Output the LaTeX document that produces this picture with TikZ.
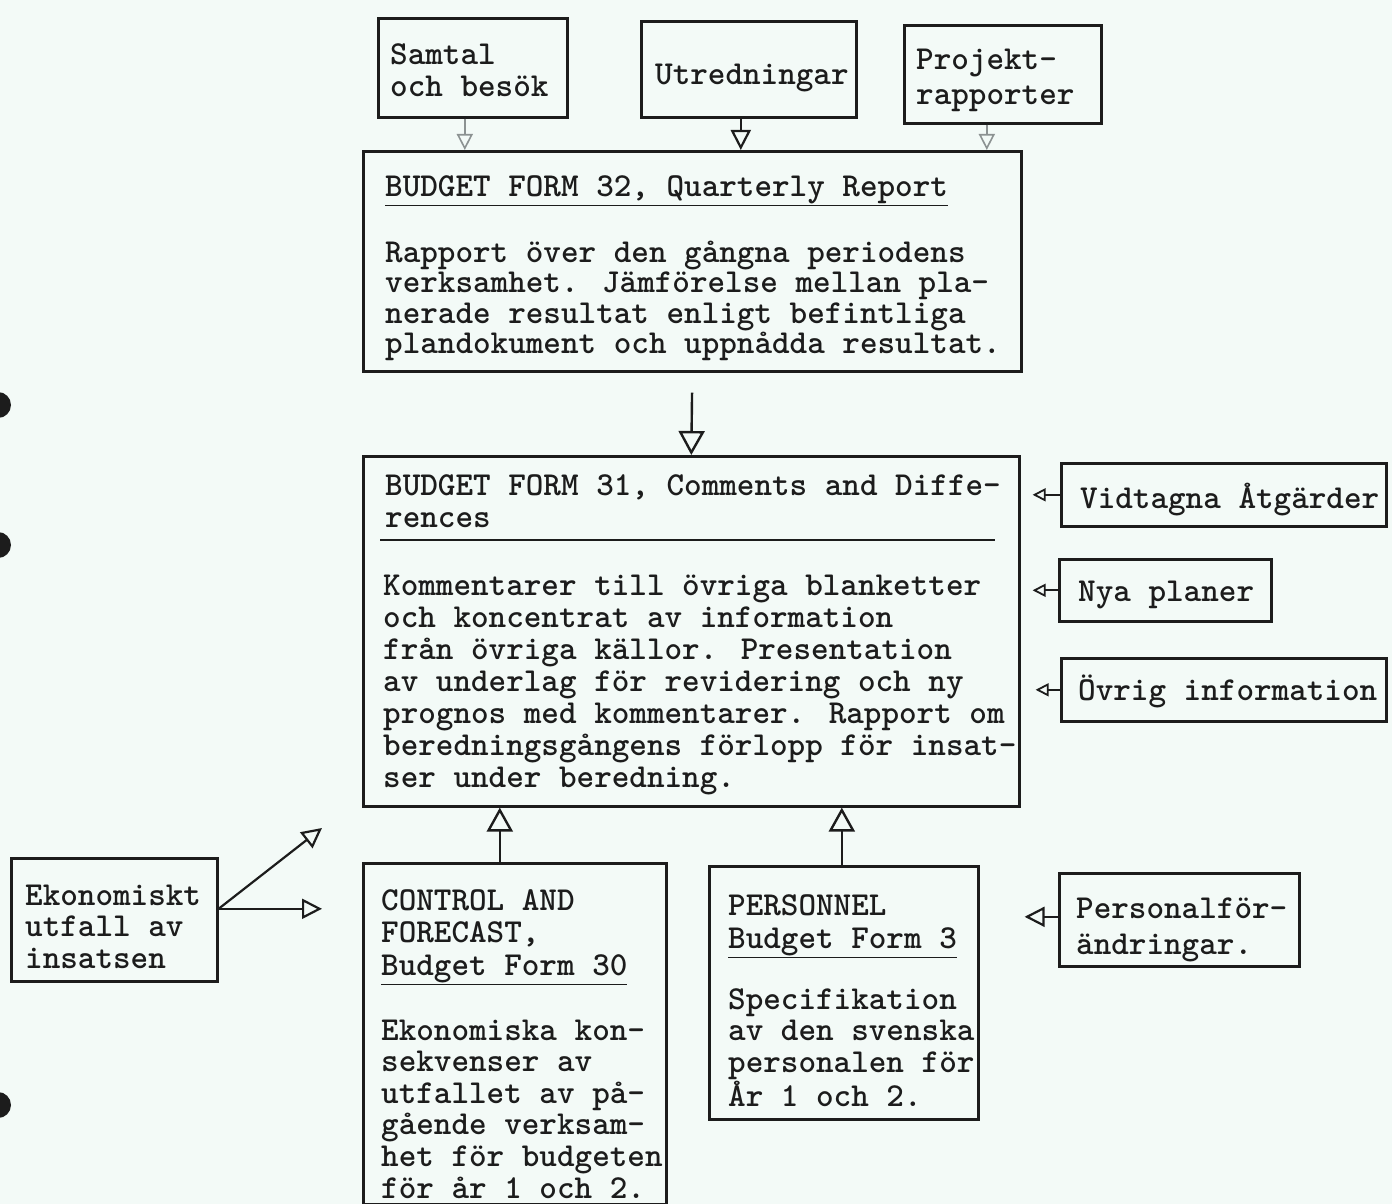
\documentclass[tikz,border=0pt]{standalone}
\usetikzlibrary{arrows.meta}
\definecolor{paper}{RGB}{243,250,247}
\definecolor{ink}{RGB}{28,28,28}
\definecolor{faint}{RGB}{140,146,146}
\tikzset{
  box/.style={draw=ink, line width=2.6pt, inner sep=0pt, anchor=north west},
  txt/.style={text=ink, font=\ttfamily\bfseries\fontsize{33.5}{#1}\selectfont, anchor=base west, inner sep=0pt, align=left},
  txt/.default=31.6,
  bigarr/.style={draw=ink, line width=2.4pt, -{Triangle[open, length=24pt, width=26pt, line width=2.4pt]}},
  midarr/.style={draw=ink, line width=2.2pt, -{Triangle[open, length=20pt, width=20pt, line width=2.2pt]}},
  smallarr/.style={draw=ink, line width=1.8pt, -{Triangle[open, length=13pt, width=13pt, line width=1.8pt]}},
  faintarr/.style={draw=faint, line width=1.6pt, -{Triangle[open, length=16pt, width=16pt, line width=1.6pt]}},
  divider/.style={draw=ink, line width=2pt},
  hole/.style={fill=ink}
}
\begin{document}
\begin{tikzpicture}[x=1pt, y=-1pt]
\useasboundingbox (0,0) rectangle (1392,1204);
\fill[paper] (0,0) rectangle (1392,1204);

% punch holes
\fill[hole] (-2,405) circle (13pt);
\fill[hole] (-2,545) circle (13pt);
\fill[hole] (-2,1105) circle (13pt);

% top source boxes (multi-line text nodes are placed at the baseline of their last line)
\node[box, minimum width=189pt, minimum height=99pt] (samtal) at (377,17) {};
\node[txt=32] (samtalT) at (390,97) {Samtal\\och besök};
\node[box, minimum width=215pt, minimum height=96pt] (utr) at (640,20) {};
\node[txt] (utrT) at (655,85) {Utredningar};
\node[box, minimum width=197pt, minimum height=98pt] (proj) at (903,24) {};
\node[txt=35] (projT) at (916,105) {Projekt-\\rapporter};

% Budget form 32
\node[box, minimum width=658pt, minimum height=220pt] (bf32) at (362,150) {};
\node[txt] (bf32T) at (385,196) {\underline{BUDGET FORM 32, Quarterly Report}};
\node[txt=30.5] (bf32B) at (385,353.5) {Rapport över den gångna periodens\\verksamhet. Jämförelse mellan pla-\\nerade resultat enligt befintliga\\plandokument och uppnådda resultat.};

% Budget form 31
\node[box, minimum width=656pt, minimum height=350pt] (bf31) at (362,455) {};
\node[txt] (bf31T) at (385,495) {BUDGET FORM 31, Comments and Diffe-};
\node[txt] (bf31T2) at (385,527) {rences};
\draw[divider] (380,540) -- (995,540);
\node[txt=32] (bf31B) at (383,787) {Kommentarer till övriga blanketter\\och koncentrat av information\\från övriga källor. Presentation\\av underlag för revidering och ny\\prognos med kommentarer. Rapport om\\beredningsgångens förlopp för insat-\\ser under beredning.};

% right side sources
\node[box, minimum width=325pt, minimum height=63pt] (vid) at (1060,462) {};
\node[txt] (vidT) at (1080,508) {Vidtagna Åtgärder};
\node[box, minimum width=212pt, minimum height=62pt] (nya) at (1058,558) {};
\node[txt] (nyaT) at (1078,601) {Nya planer};
\node[box, minimum width=325pt, minimum height=63pt] (ovr) at (1060,657) {};
\node[txt] (ovrT) at (1078,700) {Övrig information};

% bottom boxes
\node[box, minimum width=303pt, minimum height=341pt] (ctrl) at (362,862) {};
\node[txt=32.5] (ctrlT) at (381,975) {CONTROL AND\\FORECAST,\\\underline{Budget Form 30}};
\node[txt] (ctrlB) at (381,1198) {Ekonomiska kon-\\sekvenser av\\utfallet av på-\\gående verksam-\\het för budgeten\\för år 1 och 2.};

\node[box, minimum width=269pt, minimum height=253pt] (pers) at (708,865) {};
\node[txt=33] (persT) at (728,948) {PERSONNEL\\\underline{Budget Form 3}};
\node[txt=31.7] (persB) at (728,1106) {Specifikation\\av den svenska\\personalen för\\År 1 och 2.};

\node[box, minimum width=240pt, minimum height=93pt] (persf) at (1058,872) {};
\node[txt=36] (persfT) at (1076,954) {Personalför-\\ändringar.};

\node[box, minimum width=206pt, minimum height=123pt] (ek) at (10,857) {};
\node[txt=31.5] (ekT) at (25,968) {Ekonomiskt\\utfall av\\insatsen};
\coordinate (ekdiag) at (322,828);

% connectors
\draw[faintarr] ([xshift=-8pt]samtal.south) -- ([xshift=-8pt]samtal.south |- bf32.north);
\draw[midarr] ([xshift=-8pt]utr.south) -- ([xshift=-8pt]utr.south |- bf32.north);
\draw[faintarr] ([xshift=-16pt]proj.south) -- ([xshift=-16pt]proj.south |- bf32.north);

\draw[bigarr, shorten <=20pt] (bf32.south) -- (bf31.north);

\draw[smallarr, shorten >=12pt] (vid.west) -- (vid.west -| bf31.east);
\draw[smallarr, shorten >=12pt] (nya.west) -- (nya.west -| bf31.east);
\draw[smallarr, shorten >=15pt] (ovr.west) -- (ovr.west -| bf31.east);

\draw[bigarr] ([xshift=-15pt]ctrl.north) -- ([xshift=-15pt]ctrl.north |- bf31.south);
\draw[bigarr] ([xshift=-2pt]pers.north) -- ([xshift=-2pt]pers.north |- bf31.south);

\draw[midarr, shorten >=45pt] ([yshift=3pt]persf.west) -- ([yshift=3pt]persf.west -| pers.east);

\draw[midarr, shorten >=40pt] ([yshift=11pt]ek.east) -- ([yshift=11pt]ek.east -| ctrl.west);
\draw[midarr] ([yshift=11pt]ek.east) -- (ekdiag);
\end{tikzpicture}
\end{document}
